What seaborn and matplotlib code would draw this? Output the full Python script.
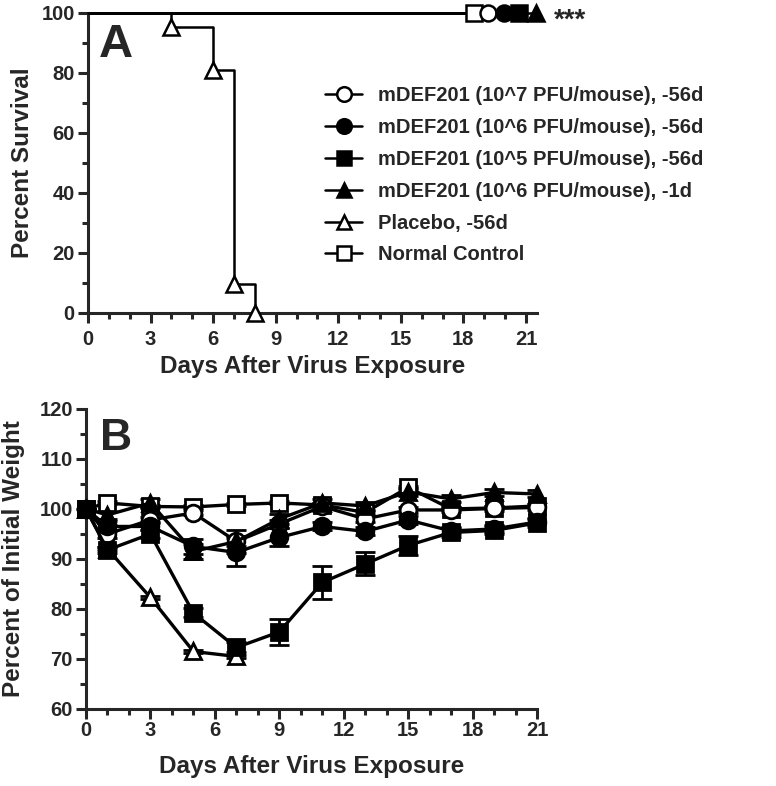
import matplotlib
matplotlib.use('Agg')
import matplotlib.pyplot as plt
from matplotlib.lines import Line2D
from matplotlib.ticker import MultipleLocator
import pandas as pd
import seaborn as sns

sns.set_style('ticks')
plt.rcParams['font.family'] = ['Liberation Sans', 'DejaVu Sans']
plt.rcParams['font.weight'] = 'bold'

# groups in legend order
groups = ['mDEF201 (10^7 PFU/mouse), -56d', 'mDEF201 (10^6 PFU/mouse), -56d',
          'mDEF201 (10^5 PFU/mouse), -56d', 'mDEF201 (10^6 PFU/mouse), -1d',
          'Placebo, -56d', 'Normal Control']
markers = ['o', 'o', 's', '^', '^', 's']
faces = ['white', 'black', 'black', 'black', 'white', 'white']

# --- panel A: survival ---
placebo_days = [0, 4, 6, 7, 8]
placebo_surv = [100, 95.2, 81.0, 9.5, 0]
# survivors stay at 100%, end markers staggered after day 18 (as in the original)
surv_order = [5, 0, 1, 2, 3]
surv_end = [18.5, 19.2, 19.94, 20.66, 21.48]

# --- panel B: weight ---
days = [0, 1, 3, 5, 7, 9, 11, 13, 15, 17, 19, 21]
w_1e7 = [100, 95.0, 97.8, 99.2, 93.5, 97.0, 100.5, 98.0, 99.8, 99.8, 100.1, 100.3]
w_1e6 = [100, 96.5, 96.5, 92.5, 91.3, 94.3, 96.5, 95.5, 97.8, 95.6, 96.0, 97.4]
w_1e5 = [100, 91.8, 95.0, 79.2, 72.3, 75.4, 85.3, 89.0, 92.7, 95.3, 95.7, 97.2]
w_1e6_1d = [100, 98.8, 101.2, 91.5, 93.5, 98.0, 101.2, 100.6, 103.4, 102.0, 103.3, 103.0]
w_placebo = [100, 92.0, 82.3, 71.5, 70.5]
w_normal = [100, 101.2, 100.5, 100.4, 100.9, 101.2, 100.8, 99.3, 104.3, 100.0, 100.2, 100.6]
e_1e7 = [0, 0.8, 0.6, 0.5, 1.0, 0.8, 0.6, 0.6, 0.6, 0.5, 0.5, 0.5]
e_1e6 = [0, 1.0, 0.8, 1.5, 2.8, 1.8, 0.8, 0.8, 0.8, 0.7, 0.7, 0.7]
e_1e5 = [0, 0.6, 0.8, 0.9, 1.0, 2.6, 3.3, 2.3, 1.9, 0.9, 0.8, 0.8]
e_1e6_1d = [0, 0.8, 0.8, 1.5, 2.3, 1.0, 0.8, 0.8, 0.8, 0.7, 0.7, 0.7]
e_placebo = [0, 0.3, 0.3, 0.3, 0.3]
e_normal = [0, 0.3, 0.3, 0.3, 0.3, 0.3, 0.3, 0.3, 0.3, 0.3, 0.3, 0.3]

weights = [w_1e7, w_1e6, w_1e5, w_1e6_1d, w_placebo, w_normal]
errs = [e_1e7, e_1e6, e_1e5, e_1e6_1d, e_placebo, e_normal]

LW = 2.2
TICK_FS = 14.5
LABEL_FS = 17.5
fig = plt.figure(figsize=(7.76, 7.86), dpi=100)
axA = fig.add_axes([0.1134, 0.6018, 0.5786, 0.3817])
axB = fig.add_axes([0.1108, 0.0980, 0.5812, 0.3817])

# survivors
for i, xe in zip(surv_order, surv_end):
    axA.plot([0, xe], [100, 100], color='black', lw=1.8, clip_on=False, zorder=2)
for i, xe in zip(surv_order, surv_end):
    axA.plot([xe], [100], marker=markers[i], ms=11.5, mfc=faces[i], mec='black',
             mew=1.8, ls='none', clip_on=False, zorder=5)
axA.text(22.35, 97.5, '***', fontsize=20, fontweight='bold', va='center', ha='left')

pdf = pd.DataFrame({'day': placebo_days, 'surv': placebo_surv})
sns.lineplot(data=pdf, x='day', y='surv', ax=axA, color='black', lw=1.8,
             drawstyle='steps-post', clip_on=False, zorder=3)
sns.lineplot(data=pdf.iloc[1:], x='day', y='surv', ax=axA, color='black', ls='none',
             marker='^', ms=11.5, mfc='white', mec='black', mew=1.8, clip_on=False, zorder=4)

axA.set_xlim(0, 21.53)
axA.set_ylim(0, 100)
axA.xaxis.set_major_locator(MultipleLocator(3))
axA.xaxis.set_minor_locator(MultipleLocator(1))
axA.yaxis.set_major_locator(MultipleLocator(20))
axA.yaxis.set_minor_locator(MultipleLocator(10))
axA.set_xlabel('Days After Virus Exposure', fontsize=LABEL_FS, fontweight='bold')
axA.set_ylabel('Percent Survival', fontsize=LABEL_FS, fontweight='bold')
axA.xaxis.set_label_coords(0.5, -0.14)
axA.yaxis.set_label_coords(-0.12, 0.5)
axA.text(0.025, 0.965, 'A', transform=axA.transAxes, fontsize=34, fontweight='bold',
         va='top', ha='left')

# weights
order = [5, 4, 0, 1, 3, 2]
for i in order:
    d = days[:len(weights[i])]
    axB.errorbar(d, weights[i], yerr=errs[i], fmt='none', ecolor='black',
                 elinewidth=2, capsize=7, capthick=2, zorder=2)
    df = pd.DataFrame({'day': d, 'w': weights[i]})
    sns.lineplot(data=df, x='day', y='w', ax=axB, color='black', lw=2.4,
                 marker=markers[i], ms=12, mfc=faces[i], mec='black', mew=2,
                 clip_on=False, zorder=3)

axB.set_xlim(0, 21)
axB.set_ylim(60, 120)
axB.xaxis.set_major_locator(MultipleLocator(3))
axB.xaxis.set_minor_locator(MultipleLocator(1))
axB.yaxis.set_major_locator(MultipleLocator(10))
axB.yaxis.set_minor_locator(MultipleLocator(5))
axB.set_xlabel('Days After Virus Exposure', fontsize=LABEL_FS, fontweight='bold')
axB.set_ylabel('Percent of Initial Weight', fontsize=LABEL_FS, fontweight='bold')
axB.xaxis.set_label_coords(0.5, -0.155)
axB.yaxis.set_label_coords(-0.135, 0.5)
axB.text(0.03, 0.97, 'B', transform=axB.transAxes, fontsize=32, fontweight='bold',
         va='top', ha='left')

for ax, xpad in [(axA, 5), (axB, 1)]:
    sns.despine(ax=ax)
    for s in ['left', 'bottom']:
        ax.spines[s].set_linewidth(LW)
    ax.tick_params(which='major', length=7.5, width=LW, labelsize=TICK_FS)
    ax.tick_params(which='minor', length=4.5, width=LW)
    ax.tick_params(axis='x', which='major', pad=xpad)
    ax.tick_params(axis='y', which='major', pad=2)
    for t in ax.get_xticklabels() + ax.get_yticklabels():
        t.set_fontweight('bold')

handles = [Line2D([], [], color='black', lw=1.8, marker=m, ms=10.5, mfc=f, mec='black', mew=1.8)
           for m, f in zip(markers, faces)]
fig.legend(handles, groups, loc='upper left', bbox_to_anchor=(325 / 776, 1 - 86 / 786),
           frameon=False, prop={'weight': 'bold', 'size': 14.5},
           borderpad=0, borderaxespad=0, handlelength=1.84, handletextpad=0.8,
           labelspacing=0.64)

fig.savefig('out.png', dpi=100)
